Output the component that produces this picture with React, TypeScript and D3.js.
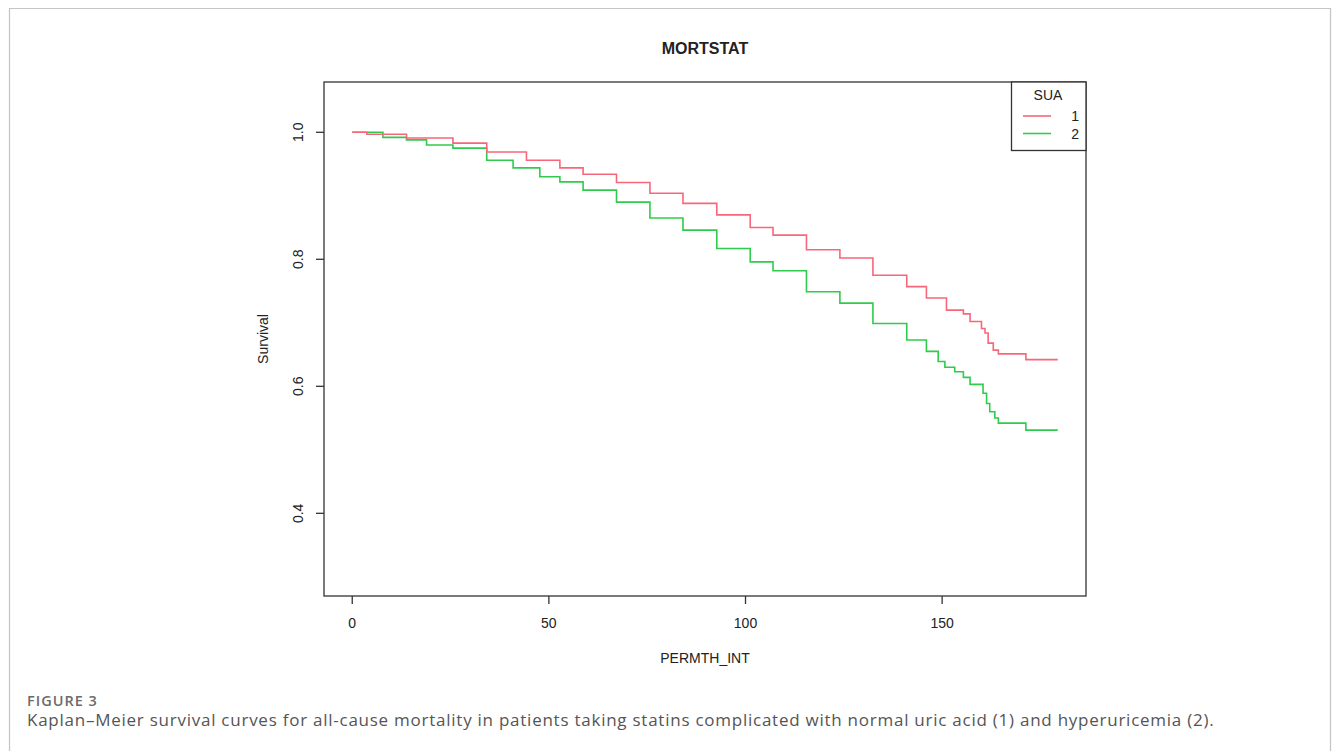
import { useEffect, useRef } from "react";
import * as d3 from "d3";

// Kaplan-Meier estimates (months, survival)
const months1 = [0, 3.7, 13.8, 25.6, 34.2, 44.3, 52.8, 58.7, 67.2, 75.7, 84.1, 92.7, 101.2, 107.0, 115.5, 124.0, 132.4, 141.0, 146.0, 151.1, 155.4, 157.1, 160.0, 160.9, 161.7, 163.0, 164.3, 171.3, 179.4];
const surv1 = [1.0, 0.997, 0.991, 0.983, 0.969, 0.956, 0.944, 0.934, 0.921, 0.904, 0.888, 0.870, 0.850, 0.838, 0.815, 0.802, 0.775, 0.757, 0.739, 0.720, 0.714, 0.702, 0.691, 0.684, 0.668, 0.657, 0.651, 0.642, 0.642];

const months2 = [0, 7.8, 13.8, 18.9, 25.6, 34.2, 40.9, 47.7, 52.8, 58.7, 67.2, 75.7, 84.1, 92.7, 101.2, 107.0, 115.5, 124.0, 132.4, 141.0, 146.0, 149.0, 150.7, 153.2, 155.4, 157.1, 160.4, 161.3, 162.1, 163.4, 164.3, 171.3, 179.4];
const surv2 = [1.0, 0.992, 0.988, 0.980, 0.975, 0.956, 0.944, 0.930, 0.922, 0.909, 0.890, 0.865, 0.846, 0.817, 0.796, 0.782, 0.749, 0.731, 0.699, 0.673, 0.655, 0.639, 0.630, 0.623, 0.614, 0.603, 0.589, 0.573, 0.560, 0.550, 0.542, 0.531, 0.531];

const groups = ["1", "2"];
const colors = ["#f7677b", "#2fcb4c"];
const xTicks = [0, 50, 100, 150];
const yTicks = [0.4, 0.6, 0.8, 1.0];

const W = 1333, H = 751;
const box = { left: 324, right: 1086, top: 82, bottom: 596 };
const axisFont = "'Liberation Sans', Arial, sans-serif";
const captionFont = "'Open Sans', 'Noto Sans', sans-serif";

export default function App() {
  const ref = useRef<SVGSVGElement>(null);

  useEffect(() => {
    if (!ref.current) return;
    const svg = d3.select(ref.current);
    svg.selectAll("*").remove();

    // outer figure frame
    svg.append("path")
      .attr("d", `M9.5,${H} V8.5 H1330.5 V${H}`)
      .attr("fill", "none")
      .attr("stroke", "#c4c4c4")
      .attr("stroke-width", 1.2);

    // R pads the data range by 4%
    const x = d3.scaleLinear().domain([-7.18, 186.58]).range([box.left, box.right]);
    const y = d3.scaleLinear().domain([0.2698, 1.0792]).range([box.bottom, box.top]);

    const series = [
      months1.map((t, i) => [t, surv1[i]] as [number, number]),
      months2.map((t, i) => [t, surv2[i]] as [number, number]),
    ];

    const line = d3.line<[number, number]>()
      .x(d => x(d[0]))
      .y(d => y(d[1]))
      .curve(d3.curveStepAfter);

    // draw group 2 first so 1 sits on top like the original
    [1, 0].forEach(i => {
      svg.append("path")
        .datum(series[i])
        .attr("d", line)
        .attr("fill", "none")
        .attr("stroke", colors[i])
        .attr("stroke-width", 1.6);
    });

    svg.append("rect")
      .attr("x", box.left).attr("y", box.top)
      .attr("width", box.right - box.left).attr("height", box.bottom - box.top)
      .attr("fill", "none").attr("stroke", "#333").attr("stroke-width", 1.3);

    // x axis
    const xa = svg.append("g");
    xa.selectAll("line").data(xTicks).enter().append("line")
      .attr("x1", d => x(d)).attr("x2", d => x(d))
      .attr("y1", box.bottom).attr("y2", box.bottom + 8)
      .attr("stroke", "#333").attr("stroke-width", 1.3);
    xa.selectAll("text").data(xTicks).enter().append("text")
      .attr("x", d => x(d)).attr("y", 628)
      .attr("text-anchor", "middle")
      .attr("font-family", axisFont).attr("font-size", 14).attr("fill", "#222")
      .text(d => d);

    // y axis
    const ya = svg.append("g");
    ya.selectAll("line").data(yTicks).enter().append("line")
      .attr("x1", box.left - 8).attr("x2", box.left)
      .attr("y1", d => y(d)).attr("y2", d => y(d))
      .attr("stroke", "#333").attr("stroke-width", 1.3);
    ya.selectAll("text").data(yTicks).enter().append("text")
      .attr("transform", d => `translate(303,${y(d)}) rotate(-90)`)
      .attr("text-anchor", "middle")
      .attr("font-family", axisFont).attr("font-size", 14).attr("fill", "#222")
      .text(d => d.toFixed(1));

    // titles
    svg.append("text")
      .attr("x", (box.left + box.right) / 2).attr("y", 54)
      .attr("text-anchor", "middle")
      .attr("font-family", axisFont).attr("font-size", 16).attr("font-weight", "bold").attr("fill", "#222")
      .text("MORTSTAT");
    svg.append("text")
      .attr("x", (box.left + box.right) / 2).attr("y", 663)
      .attr("text-anchor", "middle")
      .attr("font-family", axisFont).attr("font-size", 14).attr("fill", "#222")
      .text("PERMTH_INT");
    svg.append("text")
      .attr("transform", `translate(268,${(box.top + box.bottom) / 2}) rotate(-90)`)
      .attr("text-anchor", "middle")
      .attr("font-family", axisFont).attr("font-size", 14).attr("fill", "#222")
      .text("Survival");

    // legend
    const lg = svg.append("g");
    lg.append("rect")
      .attr("x", 1011.5).attr("y", box.top)
      .attr("width", box.right - 1011.5).attr("height", 68.5)
      .attr("fill", "white").attr("stroke", "#333").attr("stroke-width", 1.3);
    lg.append("text")
      .attr("x", 1048).attr("y", 100)
      .attr("text-anchor", "middle")
      .attr("font-family", axisFont).attr("font-size", 14).attr("fill", "#222")
      .text("SUA");
    groups.forEach((g, i) => {
      const ly = 116 + i * 17.5;
      lg.append("line")
        .attr("x1", 1023).attr("x2", 1051).attr("y1", ly).attr("y2", ly)
        .attr("stroke", colors[i]).attr("stroke-width", 1.6);
      lg.append("text")
        .attr("x", 1079).attr("y", ly + 5)
        .attr("text-anchor", "end")
        .attr("font-family", axisFont).attr("font-size", 14).attr("fill", "#222")
        .text(g);
    });

    // caption
    svg.append("text")
      .attr("x", 27).attr("y", 706)
      .attr("font-family", captionFont)
      .attr("font-size", 14.5).attr("font-weight", 600).attr("letter-spacing", 1)
      .attr("fill", "#6b6b6b")
      .text("FIGURE 3");
    svg.append("text")
      .attr("x", 27).attr("y", 726)
      .attr("font-family", captionFont)
      .attr("font-size", 17).attr("letter-spacing", 0.75)
      .attr("fill", "#555")
      .text("Kaplan\u2013Meier survival curves for all-cause mortality in patients taking statins complicated with normal uric acid (1) and hyperuricemia (2).");
  }, []);

  return (
    <svg
      ref={ref}
      width={W}
      height={H}
      style={{ position: "absolute", left: 0, top: 0, background: "white" }}
    />
  );
}
